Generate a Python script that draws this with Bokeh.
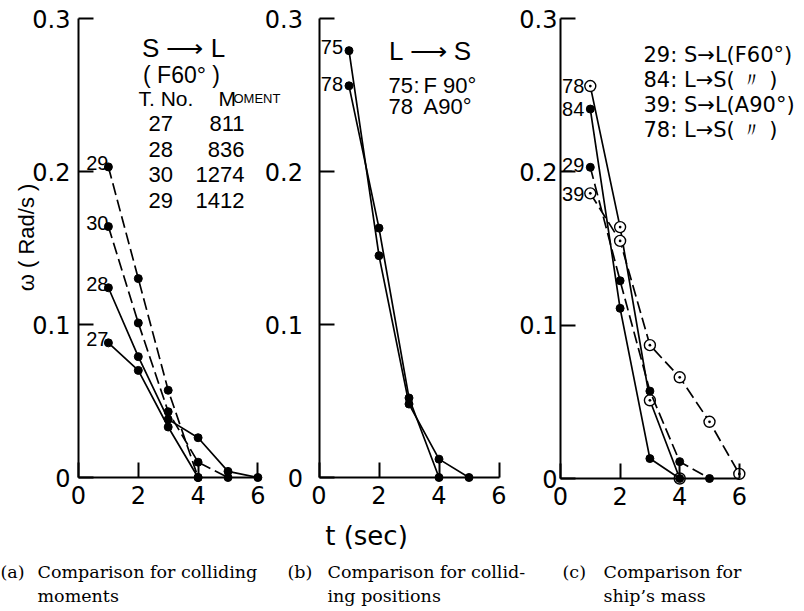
from math import pi

from bokeh.plotting import figure
from bokeh.models import Range1d, FixedTicker, LinearAxis
from bokeh.core.properties import value
from bokeh.embed import file_html
from bokeh.resources import INLINE

# ---------------- data: angular velocity w (rad/s) against time t (s) ----------------
X_TICKS = [0, 2, 4, 6]
Y_TICKS = [0, 0.1, 0.2, 0.3]
Y_TICK_LABELS = ["0", "0.1", "0.2", "0.3"]

# (a) S -> L (F60deg), runs with different colliding moments
A_RUNS = ["27", "28", "30", "29"]
A_MOMENTS = ["811", "836", "1274", "1412"]
A27_T = [1, 2, 3, 4]
A27_W = [0.088, 0.070, 0.033, 0.0]
A28_T = [1, 2, 3, 4, 5, 6]
A28_W = [0.124, 0.079, 0.038, 0.026, 0.004, 0.0]
A30_T = [1, 2, 3, 4, 5]
A30_W = [0.164, 0.101, 0.043, 0.010, 0.0]
A29_T = [1, 2, 3, 4]
A29_W = [0.203, 0.130, 0.057, 0.0]

# (b) L -> S, colliding positions
B75_T = [1, 2, 3, 4, 5]
B75_W = [0.279, 0.145, 0.048, 0.012, 0.0]
B78_T = [1, 2, 3, 4]
B78_W = [0.256, 0.163, 0.052, 0.0]

# (c) ship's mass
C78_T = [1, 2, 3, 4]
C78_W = [0.256, 0.164, 0.051, 0.0]
C84_T = [1, 2, 3, 4]
C84_W = [0.241, 0.111, 0.013, 0.0]
C29_T = [1, 2, 3, 4, 5]
C29_W = [0.203, 0.129, 0.057, 0.011, 0.0]
C39_T = [1, 2, 3, 4, 5, 6]
C39_W = [0.186, 0.155, 0.087, 0.066, 0.037, 0.003]

C_KEY = ["29: S\u2192L(F60\u00b0)", "84: L\u2192S( \u3003  )",
         "39: S\u2192L(A90\u00b0)", "78: L\u2192S( \u3003  )"]

CAPTIONS = [("(a)", "Comparison for colliding", "moments"),
            ("(b)", "Comparison for collid-", "ing positions"),
            ("(c)", "Comparison for", "ship\u2019s mass")]

# ---------------- page geometry and styling ----------------
W, H = 804, 611
# origin pixel (x0, y0) and pixels per unit (sx, sy) of each panel
GEOM = {"a": (78.0, 29.9, 477.0, 1530.0),
        "b": (318.5, 30.0, 477.0, 1530.0),
        "c": (560.0, 29.8, 478.0, 1533.0)}
TICK_FONT = "DejaVu Sans"
SANS = "Liberation Sans"
SERIF = "DejaVu Serif"
DASH = "12 5"


def xr_of(k):
    x0, sx, _, _ = GEOM[k]
    return Range1d(-x0 / sx, (W - x0) / sx)


def yr_of(k):
    _, _, y0, sy = GEOM[k]
    return Range1d(-(H - y0) / sy, y0 / sy)


p = figure(width=W, height=H, x_range=xr_of("a"), y_range=yr_of("a"),
           x_axis_location=None, y_axis_location=None,
           output_backend="svg", toolbar_location=None, min_border=0,
           outline_line_color=None, background_fill_color="white",
           border_fill_color="white")
p.grid.visible = False
p.extra_x_ranges = {"b": xr_of("b"), "c": xr_of("c"), "px": Range1d(0, W)}
p.extra_y_ranges = {"c": yr_of("c"), "px": Range1d(H, 0)}

RNG = {"a": ("default", "default"), "b": ("b", "default"), "c": ("c", "c")}


def add_axes(k, y_standoff):
    xn, yn = RNG[k]
    xa = LinearAxis(x_range_name=xn, y_range_name=yn, bounds=(0, 6),
                    ticker=FixedTicker(ticks=X_TICKS), major_label_standoff=8)
    ya = LinearAxis(x_range_name=xn, y_range_name=yn, bounds=(0, 0.3),
                    ticker=FixedTicker(ticks=Y_TICKS),
                    major_label_overrides=dict(zip(Y_TICKS, Y_TICK_LABELS)),
                    major_label_standoff=y_standoff)
    for ax in (xa, ya):
        ax.fixed_location = 0
        ax.axis_line_width = 2
        ax.axis_line_color = "black"
        ax.major_tick_line_width = 2
        ax.major_tick_line_color = "black"
        ax.major_tick_in = 15
        ax.major_tick_out = 0
        ax.minor_tick_line_color = None
        ax.major_label_text_font = TICK_FONT
        ax.major_label_text_font_size = "24px"
        ax.major_label_text_color = "black"
    p.add_layout(xa, "below")
    p.add_layout(ya, "left")


def put(x, y, s, size, font=SANS, align="left", baseline="alphabetic", angle=0.0):
    """Text placed in page pixels (x right, y down)."""
    p.text(x=[x], y=[y], text=[s], angle=angle, x_range_name="px", y_range_name="px",
           text_font=value(font), text_font_size=f"{size}px",
           text_align=align, text_baseline=baseline, text_color="black")


def series(k, t, w, name, dashed=False, hollow=False, size=20,
           dx=0, dy=-4, align="right", baseline="alphabetic"):
    xn, yn = RNG[k]
    rn = dict(x_range_name=xn, y_range_name=yn)
    p.line(t, w, line_color="black", line_width=1.7,
           line_dash=DASH if dashed else "solid", **rn)
    if hollow:
        p.scatter(t, w, marker="circle_dot", size=11, fill_color="white",
                  line_color="black", line_width=1.4, **rn)
    else:
        p.scatter(t, w, marker="circle", size=8, fill_color="black",
                  line_color="black", **rn)
    p.text(x=[t[0]], y=[w[0]], text=[name], x_offset=dx, y_offset=dy,
           text_font=value(SANS), text_font_size=f"{size}px",
           text_align=align, text_baseline=baseline, text_color="black", **rn)


# ---------------- (a) colliding moments ----------------
add_axes("a", 8)
series("a", A27_T, A27_W, A_RUNS[0])
series("a", A28_T, A28_W, A_RUNS[1])
series("a", A30_T, A30_W, A_RUNS[2], dashed=True)
series("a", A29_T, A29_W, A_RUNS[3], dashed=True)

put(183, 47, "S \u27f6 L", 26, align="center")
put(181, 74, "( F60\u00b0 )", 23, align="center")
put(138, 98, "T. No.", 21)
put(218, 98, "M", 21)
put(233, 98, "OMENT", 13)
for i, (run, mom) in enumerate(zip(A_RUNS, A_MOMENTS)):
    yb = 123 + 25.5 * i
    put(148, yb, run, 22)
    put(244, yb, mom, 22, align="right")
put(26, 237, "\u03c9 ( Rad/s )", 22, align="center", baseline="middle", angle=pi / 2)

# ---------------- (b) colliding positions ----------------
add_axes("b", 16)
series("b", B75_T, B75_W, "75", dx=-6, dy=-4)
series("b", B78_T, B78_W, "78", dx=-6, dy=-2)
put(430, 50, "L \u27f6 S", 26, align="center")
put(388, 85, "75", 22)
put(413, 85, ":", 22)
put(423, 85, "F 90\u00b0", 22)
put(388, 106, "78", 22)
put(423, 106, "A90\u00b0", 22)
put(366, 535, "t (sec)", 26, font=TICK_FONT, align="center")

# ---------------- (c) ship's mass ----------------
add_axes("c", 3)
series("c", C78_T, C78_W, "78", hollow=True, dx=-6, dy=0, baseline="middle")
series("c", C84_T, C84_W, "84", dx=-6, dy=0, baseline="middle")
series("c", C29_T, C29_W, "29", dashed=True, dx=-6, dy=-2, baseline="middle")
series("c", C39_T, C39_W, "39", dashed=True, hollow=True, dx=-6, dy=1, baseline="middle")
for i, line in enumerate(C_KEY):
    put(643, 54 + 25 * i, line, 21, font=TICK_FONT)

# ---------------- captions ----------------
for (tag, line1, line2), (xt, xb) in zip(CAPTIONS, [(0, 37), (287, 327), (562, 603)]):
    put(xt, 571, tag, 17.5, font=SERIF)
    put(xb, 571, line1, 17.5, font=SERIF)
    put(xb, 595, line2, 17.5, font=SERIF)

open("out.html", "w").write(file_html(p, INLINE))
